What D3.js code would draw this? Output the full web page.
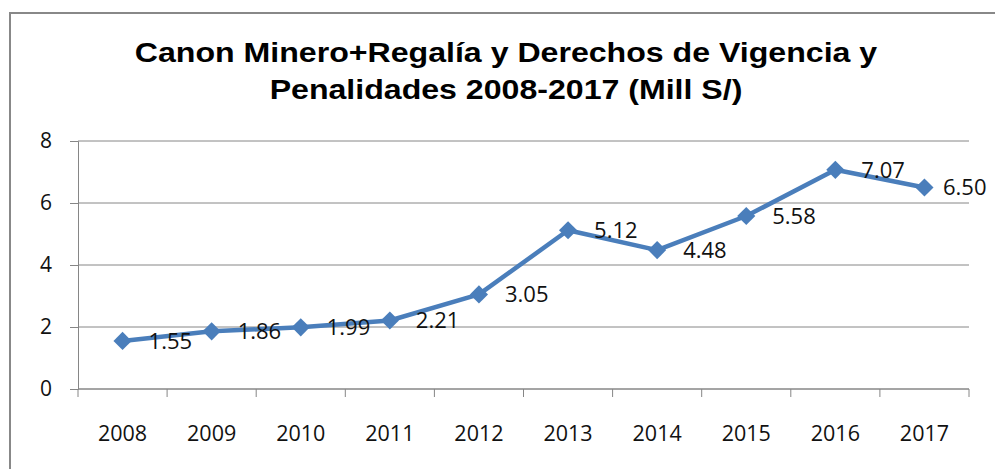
<!DOCTYPE html>
<html>
<head>
<meta charset="utf-8">
<script src="https://cdn.jsdelivr.net/npm/d3@7"></script>
<style>
  body { margin: 0; background: #fff; }
  svg { display: block; }
</style>
</head>
<body>
<script>
const years = ["2008", "2009", "2010", "2011", "2012", "2013", "2014", "2015", "2016", "2017"];
const values = [1.55, 1.86, 1.99, 2.21, 3.05, 5.12, 4.48, 5.58, 7.07, 6.50];
const yTicks = [0, 2, 4, 6, 8];
const titleLines = ["Canon Minero+Regalía y Derechos de Vigencia y", "Penalidades 2008-2017 (Mill S/)"];

const W = 995, H = 469;
const plot = { left: 78, right: 969, top: 141, bottom: 389 };
const gridColor = "#868686";
const lineColor = "#4A7EBB";
const tickFont = "'Open Sans', sans-serif";

const svg = d3.select("body").append("svg")
    .attr("width", W)
    .attr("height", H);

// chart frame (only left and top edges are inside the picture)
svg.append("rect")
    .attr("x", 10).attr("y", 13)
    .attr("width", W + 20).attr("height", H + 20)
    .attr("fill", "#fff")
    .attr("stroke", "#888")
    .attr("stroke-width", 2);

// title, stretched wider like the source picture
const title = svg.append("g");
titleLines.forEach((t, i) => {
    title.append("text")
        .attr("transform", `translate(506, ${62 + i * 37}) scale(1.147, 1)`)
        .attr("text-anchor", "middle")
        .attr("font-family", "'Liberation Sans', Arial, sans-serif")
        .attr("font-weight", "bold")
        .attr("font-size", 28)
        .attr("fill", "#000")
        .text(t);
});

const x = d3.scaleBand()
    .domain(years)
    .range([plot.left, plot.right]);

const y = d3.scaleLinear()
    .domain([0, 8])
    .range([plot.bottom, plot.top]);

// horizontal gridlines
svg.append("g")
    .selectAll("line")
    .data(yTicks)
    .join("line")
    .attr("x1", plot.left).attr("x2", plot.right)
    .attr("y1", d => y(d)).attr("y2", d => y(d))
    .attr("stroke", gridColor)
    .attr("stroke-width", 1);

// y axis
const yAxis = svg.append("g")
    .attr("transform", `translate(${plot.left}, 0)`)
    .call(d3.axisLeft(y).tickValues(yTicks).tickSize(8).tickPadding(18).tickFormat(d3.format("d")));
yAxis.select(".domain").attr("stroke", gridColor);
yAxis.selectAll(".tick line").attr("stroke", gridColor);
yAxis.selectAll("text")
    .attr("font-family", tickFont)
    .attr("font-size", 21)
    .attr("fill", "#111");

// x axis: ticks on band boundaries, labels at band centres
const xAxis = svg.append("g")
    .attr("transform", `translate(0, ${plot.bottom})`);
xAxis.append("line")
    .attr("x1", plot.left).attr("x2", plot.right)
    .attr("stroke", gridColor);
const bounds = years.map(d => x(d)).concat([plot.right]);
xAxis.selectAll(".xtick")
    .data(bounds)
    .join("line")
    .attr("class", "xtick")
    .attr("x1", d => d).attr("x2", d => d)
    .attr("y1", 0).attr("y2", 8)
    .attr("stroke", gridColor);
xAxis.selectAll(".xlabel")
    .data(years)
    .join("text")
    .attr("class", "xlabel")
    .attr("x", d => x(d) + x.bandwidth() / 2)
    .attr("y", 52)
    .attr("text-anchor", "middle")
    .attr("font-family", tickFont)
    .attr("font-size", 21.5)
    .attr("fill", "#111")
    .text(d => d);

const pts = years.map((d, i) => ({ year: d, value: values[i] }));
const cx = d => x(d.year) + x.bandwidth() / 2;

svg.append("path")
    .datum(pts)
    .attr("fill", "none")
    .attr("stroke", lineColor)
    .attr("stroke-width", 4.5)
    .attr("stroke-linejoin", "round")
    .attr("d", d3.line().x(cx).y(d => y(d.value)));

svg.append("g")
    .selectAll("path")
    .data(pts)
    .join("path")
    .attr("d", d3.symbol(d3.symbolSquare, 165))
    .attr("transform", d => `translate(${cx(d)}, ${y(d.value)}) rotate(45)`)
    .attr("fill", lineColor);

// value labels to the right of each point
svg.append("g")
    .selectAll("text")
    .data(pts)
    .join("text")
    .attr("x", d => Math.min(cx(d) + 26, 943))
    .attr("y", d => y(d.value))
    .attr("dy", "0.35em")
    .attr("font-family", tickFont)
    .attr("font-size", 22)
    .attr("fill", "#111")
    .text(d => d.value.toFixed(2));
</script>
</body>
</html>
